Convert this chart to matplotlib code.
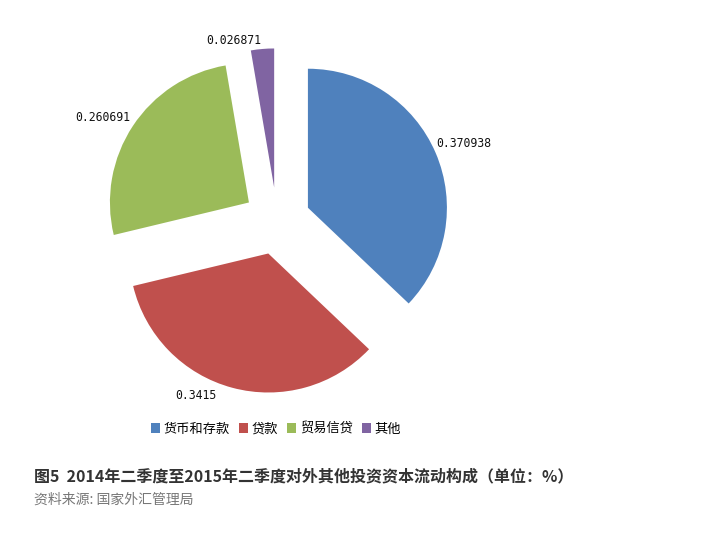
import numpy as np
import matplotlib
matplotlib.use('Agg')
import matplotlib.pyplot as plt
from matplotlib.patches import Patch

plt.rcParams['font.family'] = ['Noto Sans CJK SC', 'DejaVu Sans']

# data
categories = ['货币和存款', '贷款', '贸易信贷', '其他']
shares = [0.370938, 0.3415, 0.260691, 0.026871]
value_labels = ['0.370938', '0.3415', '0.260691', '0.026871']
colors = ['#4F81BD', '#C0504D', '#9BBB59', '#8064A2']

title = '图5  2014年二季度至2015年二季度对外其他投资资本流动构成（单位：%）'
source = '资料来源: 国家外汇管理局'

W, H = 714, 540
fig = plt.figure(figsize=(W / 100, H / 100), dpi=100)

# pie axes: 1 data unit = 139 px, centre at (277, 221) px from top-left
R = 139
cx, cy = 277, 221
half = 1.5 * R
ax = fig.add_axes([(cx - half) / W, (H - cy - half) / H, 2 * half / W, 2 * half / H])

wedges, _ = ax.pie(shares, colors=colors, startangle=90, counterclock=False,
                   explode=[0.242] * 4, radius=1.0,
                   wedgeprops=dict(linewidth=0))
# pie() resets the limits, so set them afterwards
ax.set_xlim(-1.5, 1.5)
ax.set_ylim(-1.5, 1.5)
ax.axis('off')

# data label spots, in pie units around the unexploded centre
label_xy = [(1.345, 0.554), (-0.583, -1.252), (-1.255, 0.748), (-0.309, 1.302)]
for txt, (lx, ly) in zip(value_labels, label_xy):
    ax.text(lx, ly, txt, ha='center', va='center',
            fontsize=8.3, family='DejaVu Sans Mono', color='#111111')

handles = [Patch(facecolor=c, edgecolor='none') for c in colors]
fig.legend(handles, categories, loc='center', bbox_to_anchor=(276 / W, 1 - 429 / H),
           ncol=4, frameon=False, fontsize=9.5, handlelength=0.7, handleheight=0.7,
           handletextpad=0.25, columnspacing=0.7, borderpad=0)

fig.text(34 / W, 1 - 476 / H, title, fontsize=11.5, fontweight='bold',
         color='#333333', ha='left', va='center')
fig.text(34 / W, 1 - 500 / H, source, fontsize=10, color='#777777',
         ha='left', va='center')

fig.savefig('out.png', dpi=100)
